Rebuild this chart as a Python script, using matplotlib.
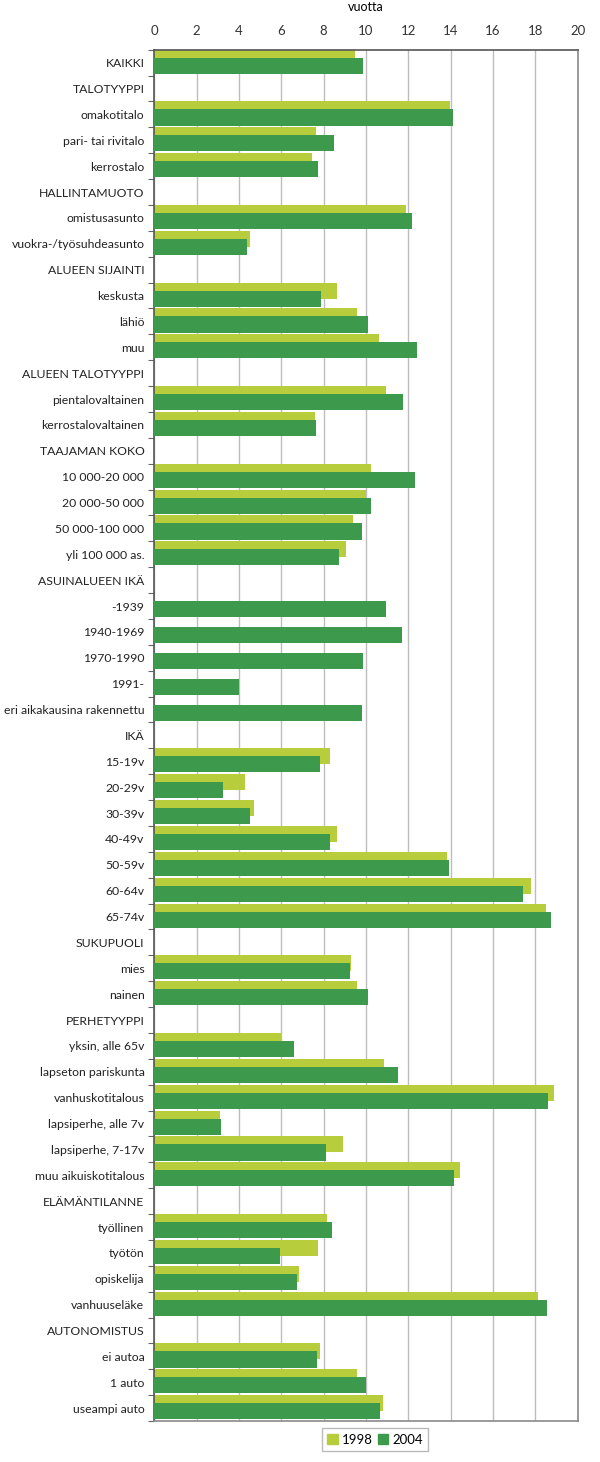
import numpy as np
import matplotlib.pyplot as plt
from matplotlib.patches import Patch

nan = np.nan

categories = [
    "KAIKKI", "TALOTYYPPI", "omakotitalo", "pari- tai rivitalo", "kerrostalo",
    "HALLINTAMUOTO", "omistusasunto", "vuokra-/työsuhdeasunto",
    "ALUEEN SIJAINTI", "keskusta", "lähiö", "muu",
    "ALUEEN TALOTYYPPI", "pientalovaltainen", "kerrostalovaltainen",
    "TAAJAMAN KOKO", "10 000-20 000", "20 000-50 000", "50 000-100 000", "yli 100 000 as.",
    "ASUINALUEEN IKÄ", "-1939", "1940-1969", "1970-1990", "1991-", "eri aikakausina rakennettu",
    "IKÄ", "15-19v", "20-29v", "30-39v", "40-49v", "50-59v", "60-64v", "65-74v",
    "SUKUPUOLI", "mies", "nainen",
    "PERHETYYPPI", "yksin, alle 65v", "lapseton pariskunta", "vanhuskotitalous",
    "lapsiperhe, alle 7v", "lapsiperhe, 7-17v", "muu aikuiskotitalous",
    "ELÄMÄNTILANNE", "työllinen", "työtön", "opiskelija", "vanhuuseläke",
    "AUTONOMISTUS", "ei autoa", "1 auto", "useampi auto",
]

v1998 = [
    9.48, nan, 13.97, 7.65, 7.43,
    nan, 11.89, 4.53,
    nan, 8.63, 9.59, 10.61,
    nan, 10.94, 7.58,
    nan, 10.25, 10.02, 9.39, 9.07,
    nan, nan, nan, nan, nan, nan,
    nan, 8.32, 4.28, 4.72, 8.63, 13.81, 17.77, 18.52,
    nan, 9.27, 9.57,
    nan, 5.97, 10.87, 18.88, 3.10, 8.91, 14.46,
    nan, 8.15, 7.75, 6.84, 18.13,
    nan, 7.84, 9.57, 10.82,
]

v2004 = [
    9.84, nan, 14.12, 8.50, 7.75,
    nan, 12.19, 4.40,
    nan, 7.88, 10.11, 12.42,
    nan, 11.75, 7.65,
    nan, 12.33, 10.25, 9.80, 8.73,
    nan, 10.94, 11.68, 9.84, 3.99, 9.80,
    nan, 7.81, 3.24, 4.51, 8.32, 13.90, 17.42, 18.75,
    nan, 9.23, 10.11,
    nan, 6.61, 11.53, 18.57, 3.16, 8.09, 14.14,
    nan, 8.38, 5.95, 6.74, 18.54,
    nan, 7.70, 9.98, 10.66,
]

plt.rcParams['font.family'] = ['Lato', 'DejaVu Sans']

light = "#b8cd3c"
dark = "#3d9a4c"

fig = plt.figure(figsize=(6, 14.62), dpi=100)
ax = fig.add_axes([0.257, 0.028, 0.706, 0.938])

y = np.arange(len(categories))
ax.barh(y - 0.19, v1998, height=0.62, color=light, zorder=2)
ax.barh(y + 0.12, v2004, height=0.62, color=dark, zorder=3)

ax.set_xlim(0, 20)
ax.set_ylim(len(categories) - 0.5, -0.5)
ax.set_xticks(range(0, 21, 2))
ax.xaxis.tick_top()
ax.xaxis.set_label_position('top')
ax.set_xlabel("vuotta", fontsize=9, labelpad=10)
ax.tick_params(axis='x', length=0, labelsize=9.5, pad=9, colors='#333333')

ax.set_yticks(y)
ax.set_yticklabels(categories, fontsize=8.8, color='#222222')
ax.set_yticks(np.arange(len(categories) + 1) - 0.5, minor=True)
ax.tick_params(axis='y', which='major', length=0, pad=7)
ax.tick_params(axis='y', which='minor', length=4, color='#666666', width=0.8)

ax.grid(axis='x', color='#bdbdbd', linewidth=1, zorder=0)
ax.set_axisbelow(True)
for side in ['top', 'left']:
    ax.spines[side].set_color('#555555')
    ax.spines[side].set_linewidth(1.2)
for side in ['right', 'bottom']:
    ax.spines[side].set_color('#8a8a8a')
    ax.spines[side].set_linewidth(1.2)

handles = [Patch(color=light, label="1998"), Patch(color=dark, label="2004")]
fig.legend(handles=handles, loc='lower center', bbox_to_anchor=(0.625, 0.003),
           ncol=2, fontsize=9.5, frameon=True, fancybox=False, edgecolor='#aaaaaa',
           handlelength=0.8, handleheight=0.8, handletextpad=0.3, columnspacing=0.4,
           borderpad=0.4)

fig.savefig("out.png", dpi=100)
